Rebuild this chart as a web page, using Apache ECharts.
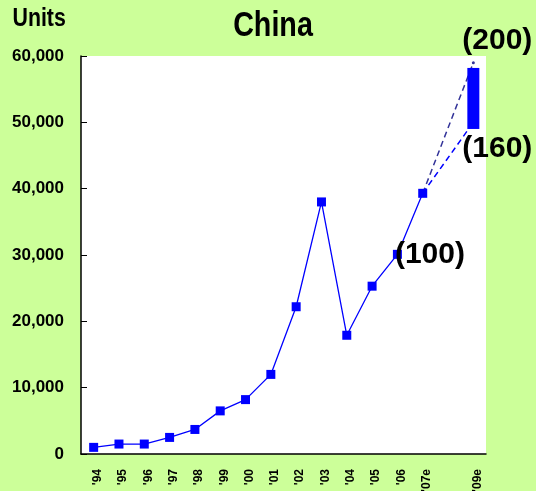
<!DOCTYPE html>
<html><head><meta charset="utf-8">
<script src="https://cdn.jsdelivr.net/npm/echarts@6/dist/echarts.min.js"></script>
<style>html,body{margin:0;padding:0;background:#CCFF99}#c{width:536px;height:491px}</style>
</head><body><div id="c"></div>
<script>
const categories = ["'94","'95","'96","'97","'98","'99","'00","'01","'02","'03","'04","'05","'06","'07e","","'09e"];
const actualUnits = [1000,1500,1500,2500,3700,6500,8200,12000,22200,38000,17900,25300,30100,39300,null,null];
const highCase = [null,null,null,null,null,null,null,null,null,null,null,null,null,39300,null,59000];
const lowCase = [null,null,null,null,null,null,null,null,null,null,null,null,null,39300,null,50000];
const rangeBase = [null,null,null,null,null,null,null,null,null,null,null,null,null,null,null,49000];
const rangeSpan = [null,null,null,null,null,null,null,null,null,null,null,null,null,null,null,9200];
const indexLabels = {actual: '(100)', high: '(200)', low: '(160)'};
const titleText = 'China';
const unitText = 'Units';

const FONT = '"Liberation Sans", Arial, sans-serif';
const chart = echarts.init(document.getElementById('c'), null, {renderer: 'canvas'});

const bigLabel = {fontFamily: FONT, fontWeight: 'bold', fontSize: 30, color: '#000'};
function withLabel(arr, idx, label) {
  return arr.map((v, i) => i === idx ? {value: v, label: Object.assign({show: true}, bigLabel, label)} : v);
}

chart.setOption({
  backgroundColor: '#CCFF99',
  animation: false,
  graphic: [
    {type: 'text', x: 273, y: 8.7, scaleX: 0.82,
     style: {text: titleText, x: 0, y: 0, textAlign: 'center', textVerticalAlign: 'top',
       font: 'bold 35px ' + FONT, fill: '#000'}},
    {type: 'text', x: 12.5, y: 6, scaleX: 0.82,
     style: {text: unitText, x: 0, y: 0, textAlign: 'left', textVerticalAlign: 'top',
       font: 'bold 26px ' + FONT, fill: '#000'}}
  ],
  grid: {left: 81, right: 50, top: 56, bottom: 37, outerBoundsMode: 'none', containLabel: false,
    show: true, backgroundColor: '#fff', borderWidth: 0},
  xAxis: {
    type: 'category', data: categories, boundaryGap: true,
    axisLine: {lineStyle: {color: '#000', width: 1.5}},
    axisTick: {inside: true, length: 5, lineStyle: {color: '#000', width: 1}},
    axisLabel: {rotate: 90, margin: 15, interval: 0, fontFamily: FONT, fontWeight: 'bold', fontSize: 12, color: '#000',
      verticalAlign: 'top', lineHeight: 8},
    splitLine: {show: false}
  },
  yAxis: {
    type: 'value', min: 0, max: 60000, interval: 10000,
    axisLine: {show: true, lineStyle: {color: '#000', width: 1.5}},
    axisTick: {show: true, inside: true, length: 6, lineStyle: {color: '#000', width: 1}},
    axisLabel: {margin: 17, fontFamily: FONT, fontWeight: 'bold', fontSize: 17, color: '#000',
      formatter: v => v.toLocaleString('en-US')},
    splitLine: {show: false}
  },
  series: [
    {type: 'line', data: withLabel(actualUnits, 12, {formatter: indexLabels.actual, position: 'right', distance: -7}),
     symbol: 'rect', symbolSize: 9,
     itemStyle: {color: '#0000FF'}, lineStyle: {color: '#0000FF', width: 1.3}, z: 5},
    {type: 'line', data: highCase, connectNulls: true,
     symbol: 'circle', symbolSize: 3, showSymbol: true,
     itemStyle: {color: '#333399'}, lineStyle: {color: '#333399', width: 1.5, type: [6, 4]}, z: 3},
    {type: 'line', data: lowCase, connectNulls: true,
     symbol: 'none',
     itemStyle: {color: '#0000FF'}, lineStyle: {color: '#0000FF', width: 1.5, type: [6, 4]}, z: 3},
    {type: 'bar', stack: 'range', data: withLabel(rangeBase, 15, {formatter: indexLabels.low, position: 'insideTop', distance: 5, offset: [24, 0]}),
     barWidth: 12, itemStyle: {color: 'transparent'}, z: 4, silent: true},
    {type: 'bar', stack: 'range', data: withLabel(rangeSpan, 15, {formatter: indexLabels.high, position: 'top', distance: 12, offset: [24, 0]}),
     barWidth: 12, itemStyle: {color: '#0000FF'}, z: 4}
  ]
});
</script></body></html>
